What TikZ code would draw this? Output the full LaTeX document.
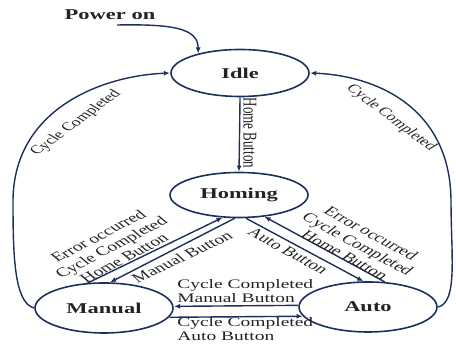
\documentclass[tikz,border=0pt]{standalone}
\usepackage{fontspec}
\setmainfont{Liberation Serif}
\usetikzlibrary{arrows.meta, calc, shapes.geometric}
\definecolor{edgenavy}{RGB}{28,48,92}
\definecolor{labelgray}{RGB}{35,35,35}
\tikzset{
  >=Latex,
  statenode/.style={ellipse, draw=edgenavy, line width=1.6pt,
               minimum width=92pt, minimum height=47pt, inner sep=0pt,
               font=\fontsize{15}{18}\selectfont\bfseries, text=labelgray},
  trans/.style={-{Latex[length=6pt,width=5pt]}, line width=1.4pt, edgenavy},
  edgelabel/.style={font=\fontsize{13}{14}\selectfont, text=labelgray,
               inner sep=0pt, align=center},
  looplabel/.style={font=\fontsize{12}{13}\selectfont, text=labelgray,
               inner sep=0pt},
}

\begin{document}
\begin{tikzpicture}[x=0.6667pt, y=-1pt, xscale=1.5,
                    every node/.style={transform shape}]
  \useasboundingbox (0,0) rectangle (456,347);

  % ---- States ----
  \node[statenode] (Idle) at (240,73) {Idle};
  \node[statenode, minimum height=45pt] (Homing) at (239,195) {Homing};
  \node[statenode, minimum height=50pt] (Manual) at (104,308) {Manual};
  \node[statenode, minimum height=50pt] (Auto) at (368,307) {Auto};

  % ---- Power on ----
  \node[font=\fontsize{15}{18}\selectfont\bfseries, text=labelgray]
    (Power) at (110,15) {Power on};
  \coordinate (PowerOut) at (117,25);
  \draw[trans] (PowerOut) .. controls (172,24) and (198,28) .. (Idle.145);

  % ---- Idle -> Homing ----
  \draw[trans] (Idle.south) -- (Homing.north);
  \node[edgelabel, rotate=-90] (HomeBtnLbl) at (250,133) {Home Button};

  % ---- Homing <-> Manual ----
  \draw[trans] (Manual.113) -- (Homing.244);
  \draw[trans] (Homing.263) -- (Manual.81);
  \node[edgelabel, rotate=38] (ManHomLbl) at (111,247)
    {Error occurred\\Cycle Completed\\Home Button};
  \node[edgelabel, rotate=35] (HomManLbl) at (182,257) {Manual Button};

  % ---- Homing <-> Auto ----
  \draw[trans] (Homing.281) -- (Auto.97);
  \draw[trans] (Auto.66) -- (Homing.308);
  \node[edgelabel, rotate=-39] (HomAutoLbl) at (288,251) {Auto Button};
  \node[edgelabel, rotate=-39] (AutoHomLbl) at (358,244)
    {Error occurred\\Cycle Completed\\Home Button};

  % ---- Manual <-> Auto ----
  \draw[trans] (Auto.178) -- (Manual.2);
  \draw[trans] (Manual.-12) -- (Auto.192);
  \node[edgelabel, anchor=west, align=left] (AutoManLbl) at (177,291)
    {Cycle Completed\\Manual Button};
  \node[edgelabel, anchor=west, align=left] (ManAutoLbl) at (177,329)
    {Cycle Completed\\Auto Button};

  % ---- Back to Idle ----
  \draw[trans] (Manual.west) .. controls (14,302) and (13,255) .. (13,200)
    .. controls (14,110) and (100,76) .. (Idle.west);
  \draw[trans] (Auto.east) .. controls (458,302) and (451,255) .. (451,200)
    .. controls (450,110) and (380,76) .. (Idle.east);
  \node[looplabel, rotate=48] (LeftLoopLbl) at (76,123) {Cycle Completed};
  \node[looplabel, rotate=-48] (RightLoopLbl) at (391,118) {Cycle Completed};

\end{tikzpicture}
\end{document}
